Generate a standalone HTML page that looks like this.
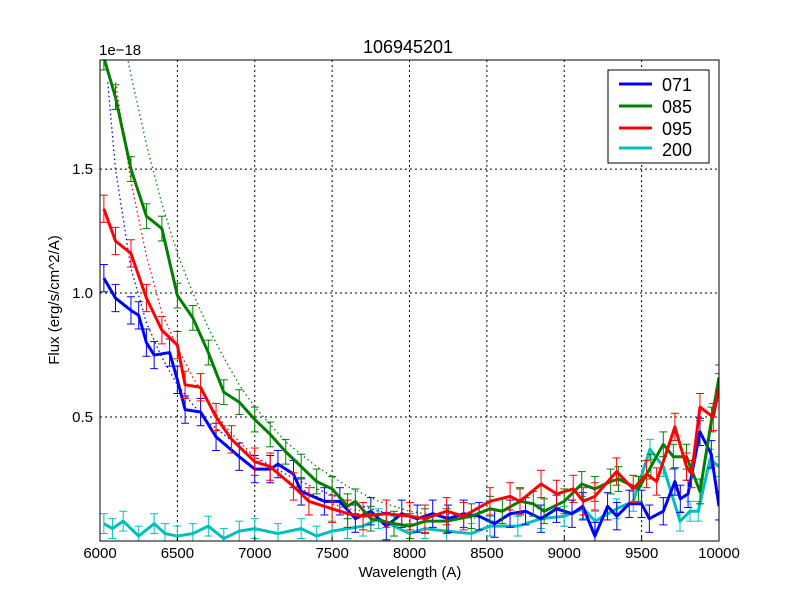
<!DOCTYPE html>
<html><head><meta charset="utf-8"><style>
body{margin:0;background:#fff}
svg text{font-family:"Liberation Sans","DejaVu Sans",sans-serif}
</style></head><body>
<svg id="chart" width="800" height="600" viewBox="0 0 800 600">
<rect width="800" height="600" fill="#fff"/>
<g id="grid"></g>
<g id="plot"></g>
<rect x="100" y="60" width="619" height="481" fill="none" stroke="#000" stroke-width="1"/>
<g id="ticks"></g>
<text x="408" y="53" font-size="18" text-anchor="middle">106945201</text>
<text x="99" y="55" font-size="15">1e−18</text>
<text x="410" y="577" font-size="15" text-anchor="middle">Wavelength (A)</text>
<text transform="translate(59,300) rotate(-90)" font-size="15" text-anchor="middle">Flux (erg/s/cm^2/A)</text>
<g>
<rect x="608" y="70" width="101" height="93" fill="#fff" stroke="#000"/>
<line x1="619" y1="84" x2="652" y2="84" stroke="#0000ff" stroke-width="3"/>
<text x="662" y="91" font-size="18">071</text>
<line x1="619" y1="106" x2="652" y2="106" stroke="#008000" stroke-width="3"/>
<text x="662" y="113" font-size="18">085</text>
<line x1="619" y1="128" x2="652" y2="128" stroke="#ff0000" stroke-width="3"/>
<text x="662" y="135" font-size="18">095</text>
<line x1="619" y1="148" x2="652" y2="148" stroke="#00bfbf" stroke-width="3"/>
<text x="662" y="156" font-size="18">200</text>
</g>
</svg>
<script>
const xTicks=[6000,6500,7000,7500,8000,8500,9000,9500,10000];
const yTicks=[0.5,1.0,1.5];
const yTickLabels=["0.5","1.0","1.5"];
const blueWl=[6025,6100,6200,6250,6300,6350,6450,6500,6550,6650,6750,6900,7000,7100,7150,7250,7300,7450,7550,7650,7750,7850,7950,8050,8150,8250,8350,8450,8550,8650,8750,8850,8950,9050,9120,9198,9280,9340,9420,9500,9550,9640,9715,9750,9800,9877,9950,10000];
const blueFlux=[1.06,0.98,0.93,0.91,0.80,0.75,0.76,0.65,0.53,0.52,0.42,0.34,0.29,0.29,0.31,0.27,0.20,0.16,0.16,0.09,0.12,0.06,0.11,0.09,0.11,0.09,0.11,0.10,0.07,0.11,0.12,0.09,0.13,0.11,0.14,0.02,0.14,0.10,0.15,0.15,0.09,0.12,0.24,0.17,0.19,0.44,0.35,0.14];
const greenWl=[6025,6100,6200,6300,6400,6500,6600,6700,6800,6900,7000,7100,7200,7300,7400,7500,7600,7650,7750,7900,8003,8100,8240,8400,8520,8600,8714,8800,8870,9000,9113,9198,9300,9350,9480,9560,9640,9705,9790,9877,9952,10000];
const greenFlux=[1.95,1.79,1.50,1.31,1.26,0.99,0.90,0.76,0.60,0.56,0.49,0.43,0.36,0.30,0.24,0.21,0.14,0.16,0.09,0.07,0.06,0.08,0.08,0.10,0.13,0.12,0.16,0.15,0.12,0.16,0.23,0.21,0.24,0.25,0.21,0.30,0.39,0.34,0.34,0.20,0.49,0.66];
const redWl=[6025,6100,6200,6300,6400,6500,6550,6650,6750,6850,7000,7100,7250,7350,7500,7600,7700,7850,8003,8100,8240,8350,8520,8650,8714,8850,8951,9058,9123,9198,9338,9446,9532,9597,9715,9790,9823,9877,9963,10000];
const redFlux=[1.34,1.21,1.16,0.98,0.85,0.79,0.63,0.62,0.50,0.41,0.32,0.30,0.22,0.16,0.13,0.11,0.10,0.11,0.10,0.09,0.12,0.10,0.16,0.18,0.16,0.23,0.19,0.21,0.16,0.18,0.28,0.21,0.27,0.24,0.46,0.30,0.27,0.54,0.50,0.62];
const cyanWl=[6025,6080,6150,6250,6350,6420,6500,6600,6700,6800,6900,7000,7150,7300,7400,7500,7600,7700,7800,7900,8000,8100,8240,8400,8520,8700,8850,9000,9123,9200,9338,9446,9554,9640,9748,9813,9866,9942,10000];
const cyanFlux=[0.07,0.05,0.08,0.02,0.07,0.03,0.02,0.03,0.06,0.01,0.04,0.05,0.03,0.05,0.02,0.04,0.05,0.06,0.09,0.06,0.03,0.05,0.04,0.03,0.06,0.06,0.09,0.10,0.13,0.08,0.13,0.16,0.37,0.30,0.08,0.12,0.12,0.33,0.30];
const blueFitWl=[6050,6100,6200,6300,6400,6500,6600,6700,6800,6900,7000,7200,7400,7600,7800,8000];
const blueFit=[1.85,1.50,1.10,0.88,0.74,0.63,0.55,0.48,0.43,0.38,0.34,0.27,0.21,0.16,0.12,0.10];
const redFitWl=[6100,6200,6300,6400,6500,6600,6700,6800,6900,7000,7100,7200,7300,7400,7500,7600,7800,8000];
const redFit=[1.85,1.45,1.15,0.92,0.78,0.66,0.56,0.47,0.40,0.34,0.29,0.25,0.21,0.18,0.15,0.13,0.11,0.10];
const greenFitWl=[6170,6200,6300,6400,6500,6600,6700,6800,6900,7000,7100,7200,7300,7400,7500,7600,7700,7800,7900,8000,8200,8500];
const greenFit=[1.97,1.88,1.60,1.36,1.16,1.00,0.86,0.74,0.63,0.54,0.47,0.40,0.35,0.30,0.26,0.22,0.19,0.16,0.14,0.12,0.10,0.09];
const errBlue=0.055, errGreen=0.05, errRed=0.055, errCyan=0.04;

const NS="http://www.w3.org/2000/svg";
const X0=100,X1=719,Y0=541,Y1=60,VMAX=1.94;
function sx(w){return X0+(w-6000)/4000*(X1-X0);}
function sy(v){return Y0-v/VMAX*(Y0-Y1);}
function mk(tag,attrs,parent){const e=document.createElementNS(NS,tag);for(const k in attrs)e.setAttribute(k,attrs[k]);parent.appendChild(e);return e;}
const grid=document.getElementById('grid'),plot=document.getElementById('plot'),ticks=document.getElementById('ticks');
xTicks.forEach(t=>{
  const x=sx(t);
  if(t>6000&&t<10000){const g=mk('line',{x1:x,y1:Y1,x2:x,y2:Y0,stroke:'#000','stroke-dasharray':'2,3','stroke-width':1},grid);
  
  }
  const tl=mk('text',{x:x,y:558,'font-size':15,'text-anchor':'middle'},ticks);
  tl.textContent=t;
  
  
  const a=mk('line',{x1:x,y1:Y0,x2:x,y2:Y0-4,stroke:'#000'},ticks);
  
  
});
yTicks.forEach((t,i)=>{
  const y=sy(t);
  const g=mk('line',{x1:X0,y1:y,x2:X1,y2:y,stroke:'#000','stroke-dasharray':'2,3','stroke-width':1},grid);
  
  
  const tl=mk('text',{x:93,y:y+5,'font-size':15,'text-anchor':'end'},ticks);
  tl.textContent=yTickLabels[i];
  
  
});
const clip=mk('clipPath',{id:'pc'},plot);mk('rect',{x:X0,y:Y1,width:X1-X0,height:Y0-Y1},clip);
const g=mk('g',{'clip-path':'url(#pc)'},plot);
function fit(wl,v,col,name){
  const p=mk('polyline',{points:wl.map((w,i)=>sx(w)+','+sy(v[i])).join(' '),fill:'none',stroke:col,'stroke-width':1.3,'stroke-dasharray':'1.5,3'},g);
  
  
}
function series(wl,v,err,col,name){
  const eg=mk('g',{stroke:col,'stroke-width':1},g);
  
  
  wl.forEach((w,i)=>{const x=sx(w),a=sy(v[i]+err),b=sy(v[i]-err);
    mk('line',{x1:x,y1:a,x2:x,y2:b},eg);mk('line',{x1:x-4,y1:a,x2:x+4,y2:a},eg);mk('line',{x1:x-4,y1:b,x2:x+4,y2:b},eg);});
  const p=mk('polyline',{points:wl.map((w,i)=>sx(w)+','+sy(v[i])).join(' '),fill:'none',stroke:col,'stroke-width':3,'stroke-linejoin':'round'},g);
  
  
}
fit(blueFitWl,blueFit,'#0000ff','fit-071');
fit(redFitWl,redFit,'#ff0000','fit-095');
fit(greenFitWl,greenFit,'#008000','fit-085');
series(cyanWl,cyanFlux,errCyan,'#00bfbf','series-200');
series(blueWl,blueFlux,errBlue,'#0000ff','series-071');
series(greenWl,greenFlux,errGreen,'#008000','series-085');
series(redWl,redFlux,errRed,'#ff0000','series-095');
</script>
</body></html>
